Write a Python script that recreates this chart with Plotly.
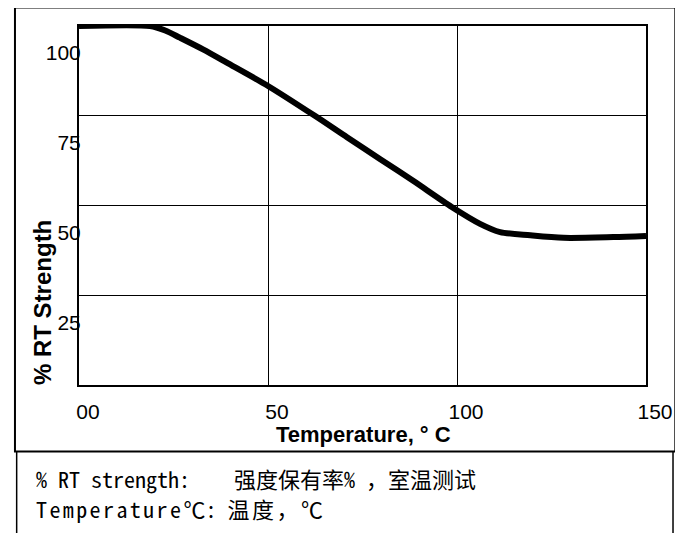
import plotly.graph_objects as go

# ---- data ----
temperature = [0, 18.8, 22.8, 26.7, 32.8, 39.1, 50.0, 62.5, 70.9, 79.7, 88.5,
               98.6, 106.1, 111.4, 119.4, 128.2, 141.4, 150]
strength = [100, 100, 98.75, 96.75, 93.5, 89.8, 83.3, 74.9, 69.0, 62.9, 56.8,
            49.6, 44.9, 42.6, 41.7, 41.0, 41.2, 41.5]

x_ticks = [0, 50, 100, 150]
x_ticktext = ["00", "50", "100", "150"]
y_ticks = [25, 50, 75, 100]
y_ticktext = ["25", "50", "75", "100"]

x_title = "Temperature, ° C"
y_title = "% RT Strength"
note_line1 = "% RT strength:\u00a0\u00a0\u00a0\u00a0强度保有率%\u00a0，室温测试"
note_line2 = ("<span style='letter-spacing:2.4px'>Temperature</span>℃:\u00a0"
              "<span style='letter-spacing:2.5px'>温度，℃</span>")

# ---- layout geometry (pixels, in page coordinates) ----
PAGE_OFF = 8            # the page body offsets the figure by this much
FIG_W, FIG_H = 683 - PAGE_OFF, 533 - PAGE_OFF
L, T = 79 - PAGE_OFF, 25.7 - PAGE_OFF
PW, PH = 566.7, 359.3
R = FIG_W - L - PW
B = FIG_H - T - PH


def px(p):
    return (p - PAGE_OFF - L) / PW


def py(p):
    return (T + PH - (p - PAGE_OFF)) / PH


fig = go.Figure()
fig.add_trace(go.Scatter(
    x=temperature, y=strength, mode="lines",
    line=dict(color="black", width=6, shape="spline", smoothing=0.8),
    hoverinfo="skip", showlegend=False,
))

tick_font = dict(family="Liberation Sans, Arial", size=21, color="black")

fig.update_layout(
    width=FIG_W, height=FIG_H,
    margin=dict(l=L, r=R, t=T, b=B, pad=0),
    paper_bgcolor="white", plot_bgcolor="white",
    xaxis=dict(
        range=[0, 150], tickvals=x_ticks, ticktext=x_ticktext,
        showgrid=True, gridcolor="black", gridwidth=1.4,
        showline=True, mirror=True, linecolor="black", linewidth=2,
        zeroline=False, ticks="", tickfont=tick_font,
        ticklabelshift=9, ticklabelstandoff=7,
        automargin=False, fixedrange=True,
    ),
    yaxis=dict(
        range=[0, 100], tickvals=y_ticks, ticktext=y_ticktext,
        showgrid=True, gridcolor="black", gridwidth=1.4,
        showline=True, mirror=True, linecolor="black", linewidth=2,
        zeroline=False, ticks="", tickfont=tick_font,
        ticklabelshift=27, ticklabelstandoff=-8,
        automargin=False, fixedrange=True,
    ),
    font=dict(family="Liberation Sans, Arial", color="black"),
)

title_font = dict(family="Liberation Sans, Arial", size=22, color="black", weight="bold")
# x-axis title
fig.add_annotation(
    text=x_title, showarrow=False,
    xref="paper", yref="paper", x=px(363), y=py(435),
    xanchor="center", yanchor="middle", font=title_font,
)
# y-axis title (sits low, beside the lower part of the axis)
fig.add_annotation(
    text=y_title, textangle=-90, showarrow=False,
    xref="paper", yref="paper", x=px(42), y=py(302),
    xanchor="center", yanchor="middle",
    font=dict(family="Liberation Sans, Arial", size=24, color="black", weight="bold"),
)

note_font = dict(family="Noto Sans Mono CJK SC, Noto Sans CJK SC, Liberation Mono", size=22, color="black")
fig.add_annotation(text=note_line1, showarrow=False, xref="paper", yref="paper",
                   x=px(34), y=py(478), xanchor="left", yanchor="middle", font=note_font)
fig.add_annotation(text=note_line2, showarrow=False, xref="paper", yref="paper",
                   x=px(34), y=py(508), xanchor="left", yanchor="middle", font=note_font)

# outer frame around the chart
fig.add_shape(type="rect", xref="paper", yref="paper",
              x0=px(15), x1=px(675), y0=py(451.5), y1=py(7.3),
              line=dict(color="black", width=2), layer="above")
# box of the notes below
fig.add_shape(type="line", xref="paper", yref="paper",
              x0=px(16.7), x1=px(16.7), y0=py(451.5), y1=py(545),
              line=dict(color="black", width=1.5))
fig.add_shape(type="line", xref="paper", yref="paper",
              x0=px(672.7), x1=px(672.7), y0=py(451.5), y1=py(545),
              line=dict(color="black", width=1.5))

fig.write_html("out.html")
